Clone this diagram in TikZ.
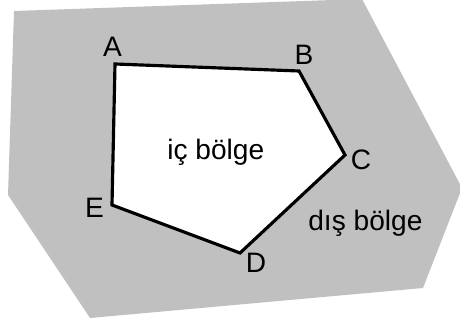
\documentclass[tikz,border=0pt]{standalone}
\usepackage{fontspec}
\setmainfont{Liberation Sans}
\usepackage{tikz}
\usepackage{xcolor}
\usetikzlibrary{positioning,calc}
\definecolor{regiongray}{HTML}{C0C0C0}
\definecolor{edgeblack}{HTML}{000000}

\begin{document}
\begin{tikzpicture}[x=0.02cm, y=-0.02cm,
  vlabel/.style={font=\fontsize{16}{18}\selectfont\color{edgeblack}, inner sep=0pt, anchor=base},
  rlabel/.style={font=\fontsize{16}{18}\selectfont\color{edgeblack}, inner sep=0pt, anchor=base west},
  border/.style={draw=edgeblack, line width=1.8pt, line join=miter},
]
% page = 460 x 320 px, one unit = one pixel
\useasboundingbox (0,0) rectangle (460,320);
\begin{scope}
\clip (0,0) rectangle (460,320);
\fill[regiongray] (14,11) -- (362,-1) -- (462,188) -- (423,288) -- (90,318) -- (8,195) -- cycle;
\end{scope}

% corners of the inner region
\coordinate (A) at (115,64);
\coordinate (B) at (299,71);
\coordinate (C) at (345,155);
\coordinate (D) at (240,253);
\coordinate (E) at (112,205);
\fill[white] (A) -- (B) -- (C) -- (D) -- (E) -- cycle;
\draw[border] (A) -- (B) -- (C) -- (D) -- (E) -- cycle;

\node[vlabel] (lblA) at (112.5,57) {A};
\node[vlabel] (lblB) at (304,65) {B};
\node[vlabel] (lblC) at (361,170) {C};
\node[vlabel] (lblD) at (256,273) {D};
\node[vlabel] (lblE) at (94.5,218) {E};

\node[rlabel] (inner) at (167,160) {iç bölge};
\node[rlabel] (outer) at (308,231) {dış bölge};
\end{tikzpicture}
\end{document}
